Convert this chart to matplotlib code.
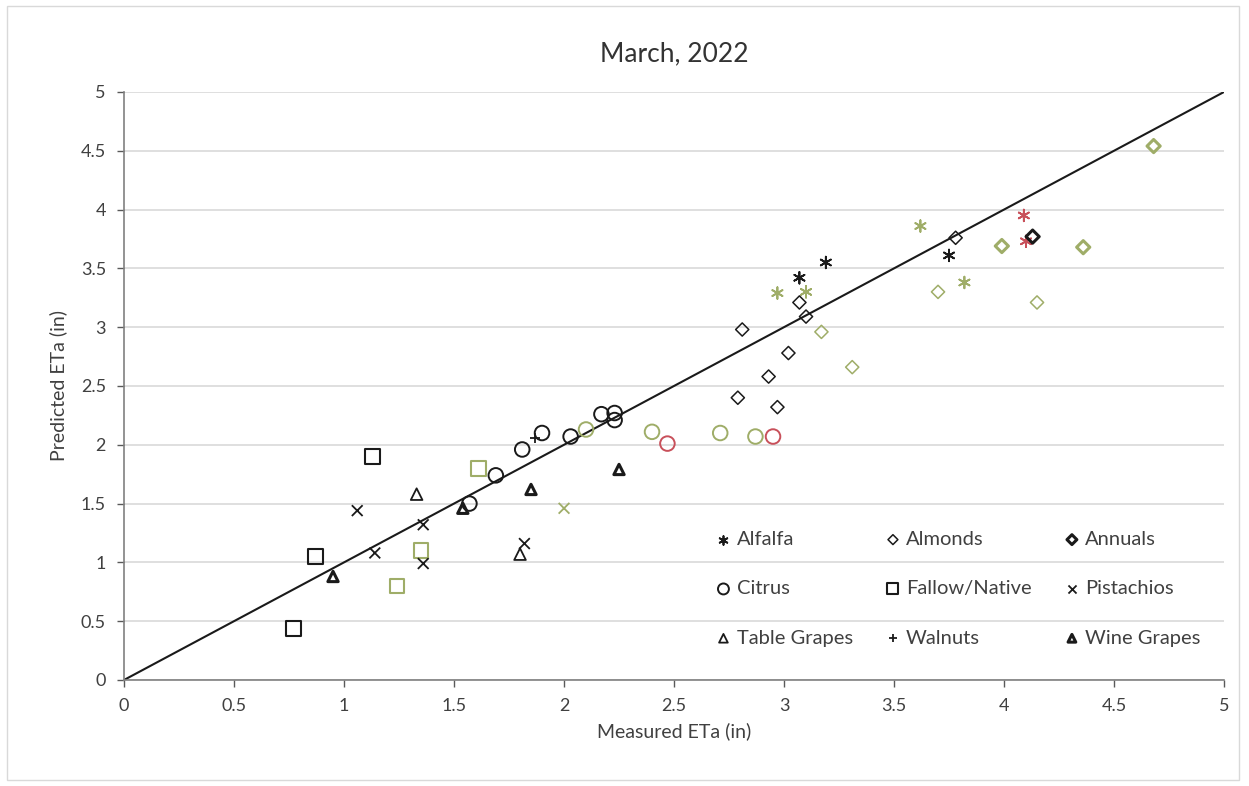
import matplotlib.pyplot as plt
from matplotlib.patches import Rectangle

plt.rcParams['font.family'] = ['Lato', 'DejaVu Sans']

BLK = '#1a1a1a'
GRN = '#9fad68'
RED = '#c8505a'

# measured / predicted ETa (in), colour per point
alfalfa_x = [3.07, 3.19, 3.75, 2.97, 3.10, 3.62, 3.82, 4.09, 4.10]
alfalfa_y = [3.42, 3.55, 3.61, 3.29, 3.30, 3.86, 3.38, 3.95, 3.73]
alfalfa_c = [BLK, BLK, BLK, GRN, GRN, GRN, GRN, RED, RED]

almonds_x = [3.07, 3.10, 2.81, 3.02, 2.93, 2.79, 2.97, 3.78, 3.17, 3.31, 3.70, 4.15]
almonds_y = [3.21, 3.09, 2.98, 2.78, 2.58, 2.40, 2.32, 3.76, 2.96, 2.66, 3.30, 3.21]
almonds_c = [BLK] * 8 + [GRN] * 4

annuals_x = [4.13, 3.99, 4.36, 4.68]
annuals_y = [3.77, 3.69, 3.68, 4.54]
annuals_c = [BLK, GRN, GRN, GRN]

citrus_x = [2.17, 2.23, 2.23, 2.03, 1.90, 1.81, 1.69, 1.57, 2.10, 2.40, 2.71, 2.87, 2.47, 2.95]
citrus_y = [2.26, 2.27, 2.21, 2.07, 2.10, 1.96, 1.74, 1.50, 2.13, 2.11, 2.10, 2.07, 2.01, 2.07]
citrus_c = [BLK] * 8 + [GRN] * 4 + [RED] * 2

fallow_x = [1.13, 0.87, 0.77, 1.61, 1.35, 1.24]
fallow_y = [1.90, 1.05, 0.44, 1.80, 1.10, 0.80]
fallow_c = [BLK] * 3 + [GRN] * 3

pist_x = [1.06, 1.36, 1.14, 1.36, 1.82, 2.00]
pist_y = [1.44, 1.32, 1.08, 0.99, 1.16, 1.46]
pist_c = [BLK] * 5 + [GRN]

table_x = [1.33, 1.80]
table_y = [1.58, 1.07]

walnut_x = [1.87]
walnut_y = [2.06]

wine_x = [0.95, 1.54, 1.85, 2.25]
wine_y = [0.88, 1.46, 1.62, 1.79]

fig = plt.figure(figsize=(12.49, 7.86), dpi=100)
ax = fig.add_axes([0.0993, 0.1349, 0.8807, 0.7481])
fig.patches.append(Rectangle((0.006, 0.007), 0.986, 0.985, transform=fig.transFigure,
                             fill=False, ec='#d9d9d9', lw=1))

ax.plot([0, 5], [0, 5], color=BLK, lw=1.5, zorder=2)

kw = dict(s=70, zorder=3)
ax.scatter(alfalfa_x, alfalfa_y, marker=(6, 2, 0), c=alfalfa_c, lw=1.3, label='Alfalfa', **kw)
ax.scatter(almonds_x, almonds_y, marker='D', facecolors='none', edgecolors=almonds_c,
           lw=1.1, s=45, zorder=3, label='Almonds')
ax.scatter(annuals_x, annuals_y, marker='D', facecolors='none', edgecolors=annuals_c,
           lw=2.2, s=45, zorder=3, label='Annuals')
ax.scatter(citrus_x, citrus_y, marker='o', facecolors='none', edgecolors=citrus_c,
           lw=1.4, s=110, zorder=3, label='Citrus')
ax.scatter(fallow_x, fallow_y, marker='s', facecolors='none', edgecolors=fallow_c,
           lw=1.5, s=110, zorder=3, label='Fallow/Native')
ax.scatter(pist_x, pist_y, marker='x', c=pist_c, lw=1.3, s=60, zorder=3, label='Pistachios')
ax.scatter(table_x, table_y, marker='^', facecolors='none', edgecolors=BLK,
           lw=1.3, s=70, zorder=3, label='Table Grapes')
ax.scatter(walnut_x, walnut_y, marker='+', c=BLK, lw=1.3, s=60, zorder=3, label='Walnuts')
ax.scatter(wine_x, wine_y, marker='^', facecolors='none', edgecolors=BLK,
           lw=2.2, s=55, zorder=3, label='Wine Grapes')

ax.set_xlim(0, 5)
ax.set_ylim(0, 5)
ticks = [0, 0.5, 1, 1.5, 2, 2.5, 3, 3.5, 4, 4.5, 5]
labels = ['0', '0.5', '1', '1.5', '2', '2.5', '3', '3.5', '4', '4.5', '5']
ax.set_xticks(ticks, labels)
ax.set_yticks(ticks, labels)
ax.tick_params(labelsize=13, colors='#595959', length=5, width=1, pad=8)
ax.tick_params(axis='both', labelcolor='#404040')
ax.grid(axis='y', color='#d9d9d9', lw=1.2, zorder=0)
ax.set_axisbelow(True)
for s in ['top', 'right']:
    ax.spines[s].set_visible(False)
for s in ['left', 'bottom']:
    ax.spines[s].set_color('#808080')
    ax.spines[s].set_linewidth(1.2)

ax.set_title('March, 2022', fontsize=19, color='#333333', pad=22)
ax.set_xlabel('Measured ETa (in)', fontsize=14, color='#404040', labelpad=6)
ax.set_ylabel('Predicted ETa (in)', fontsize=14, color='#404040', labelpad=10)

# row-wise order, as in the original legend
h, l = ax.get_legend_handles_labels()
order = [0, 3, 6, 1, 4, 7, 2, 5, 8]
leg = ax.legend([h[i] for i in order], [l[i] for i in order],
                loc='lower right', bbox_to_anchor=(0.995, 0.026), ncol=3, frameon=False,
                fontsize=14.5, labelcolor='#404040', handletextpad=0.05, columnspacing=1.4,
                labelspacing=1.6, markerscale=0.75, handlelength=1.2)
for hd in leg.legend_handles:
    hd.set_edgecolor(BLK)
    if hd.get_facecolor().size and hd.get_facecolor()[0][3] > 0:
        hd.set_facecolor(BLK)

fig.savefig('out.png', dpi=100)
